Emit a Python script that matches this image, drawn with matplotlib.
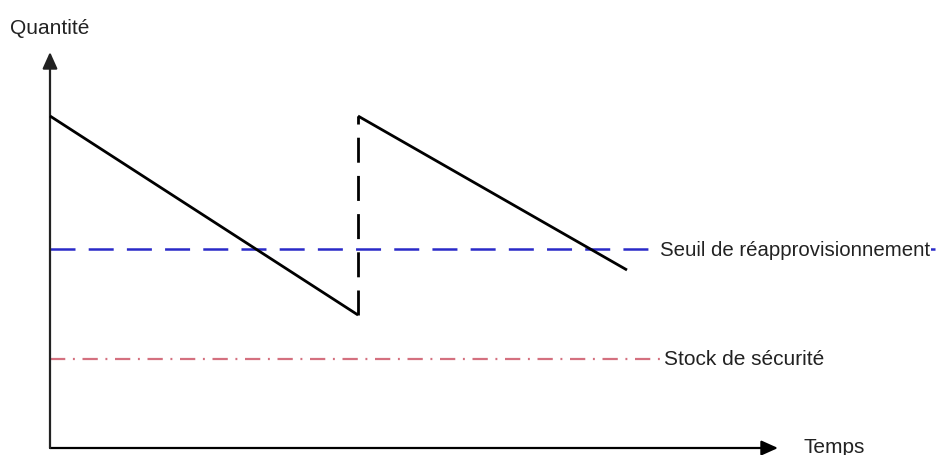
import matplotlib

matplotlib.use("Agg")
import matplotlib.pyplot as plt

# data units: origin at the corner of the two axes
time_axis_end = 728
quantity_axis_end = 396

first_time = [0, 308]
first_qty = [332, 133]
restock_time = [308, 308]
restock_qty = [133, 332]
second_time = [308, 577]
second_qty = [332, 178]

reorder_level = 199
safety_stock = 89
reorder_span = [0, 885]
safety_span = [0, 613]

reorder_label = "Seuil de réapprovisionnement"
safety_label = "Stock de sécurité"
x_label = "Temps"
y_label = "Quantité"

plt.rcParams["font.family"] = ["Liberation Sans", "DejaVu Sans"]
plt.rcParams["lines.scale_dashes"] = False

fig = plt.figure(figsize=(9.38, 4.56), dpi=100)
ax = fig.add_axes([0, 0, 1, 1])
ax.set_xlim(-50, 888)
ax.set_ylim(-7, 449)
ax.axis("off")

# axes with arrow heads
ax.annotate("", xy=(time_axis_end, 0), xytext=(0, 0),
            arrowprops=dict(arrowstyle="-|>,head_length=1.0,head_width=0.45",
                            color="black", lw=1.6, shrinkA=0, shrinkB=0))
ax.annotate("", xy=(0, quantity_axis_end), xytext=(0, 0),
            arrowprops=dict(arrowstyle="-|>,head_length=1.0,head_width=0.45",
                            color="#222222", lw=1.6, shrinkA=0, shrinkB=0))

# reference levels
ax.plot(reorder_span, [reorder_level] * 2, color="#2a2ac8", lw=1.8,
        dashes=(18, 9.5), zorder=2)
ax.plot(safety_span, [safety_stock] * 2, color="#d4707f", lw=1.6,
        dashes=(11, 5.5, 1.4, 5.5), zorder=2)

# stock level saw-tooth
ax.plot(first_time, first_qty, color="black", lw=2.0, solid_capstyle="butt", zorder=3)
ax.plot(restock_time, restock_qty, color="black", lw=2.0, dashes=(18, 9.5), zorder=3)
ax.plot(second_time, second_qty, color="black", lw=2.0, solid_capstyle="butt", zorder=3)

ax.text(610, reorder_level, reorder_label, fontsize=14.7, color="#222222",
        ha="left", va="center",
        bbox=dict(facecolor="white", edgecolor="none", pad=0.3), zorder=4)
ax.text(614, safety_stock, safety_label, fontsize=15, color="#222222",
        ha="left", va="center", zorder=4)
ax.text(-40, 421, y_label, fontsize=15, color="#222222", ha="left", va="center")
ax.text(753, 1, x_label, fontsize=15, color="#222222", ha="left", va="center")

fig.savefig("out.png", dpi=100)
